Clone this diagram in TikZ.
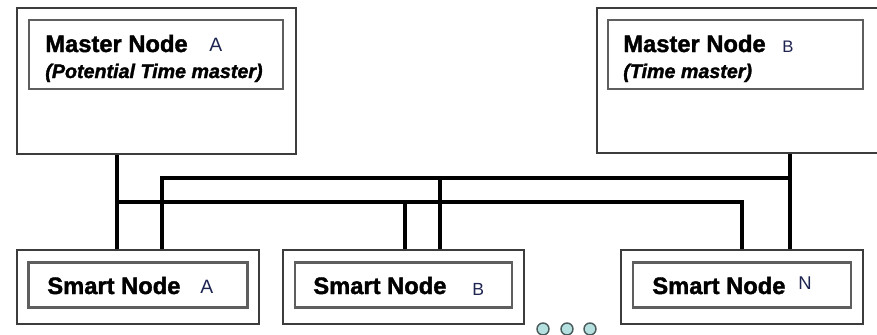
\documentclass[tikz,border=0pt]{standalone}
\usepackage{fontspec}
\setmainfont{Liberation Sans}
\newfontfamily\heavyfont{Liberation Sans}[BoldFeatures={FakeBold=1.6}, BoldItalicFeatures={FakeBold=1.6}]
\usepackage{tikz}
\usetikzlibrary{positioning, calc}
\definecolor{framegrey}{HTML}{3C3C3C}
\definecolor{panelgrey}{HTML}{5E5E5E}
\definecolor{tagink}{HTML}{1E2450}
\definecolor{dotfill}{HTML}{B4E0E0}
\definecolor{dotline}{HTML}{4A5A5A}

\begin{document}
\begin{tikzpicture}[
  x=0.02cm, y=-0.02cm,
  outerbox/.style={draw=framegrey, line width=1.1pt, fill=white, inner sep=0pt},
  innerbox/.style={draw=panelgrey, line width=1.2pt, inner sep=0pt},
  wire/.style={black, line width=2.3pt},
  title/.style={font=\heavyfont\fontsize{13.5}{15}\selectfont\bfseries, anchor=base west, inner sep=0pt},
  subtitle/.style={font=\heavyfont\fontsize{11.2}{13}\selectfont\bfseries\itshape, anchor=base west, inner sep=0pt},
  tag/.style={font=\fontsize{11}{13}\selectfont, text=tagink, anchor=base west, inner sep=0pt},
  moredot/.style={circle, draw=dotline, fill=dotfill, line width=0.8pt, minimum size=0.24cm, inner sep=0pt}
]
\useasboundingbox (0,0) rectangle (877,335);

% ---- master nodes (B runs off the right edge) ----
\node[outerbox, minimum width=5.58cm, minimum height=2.92cm] (mA) at (156.5,81) {};
\node[innerbox, minimum width=5.08cm, minimum height=1.38cm] (mAin) at (156,54.5) {};
\node[outerbox, minimum width=5.86cm, minimum height=2.9cm] (mB) at (743.5,80.5) {};
\node[innerbox, minimum width=5.1cm, minimum height=1.38cm] (mBin) at (735.5,54.5) {};

\node[title] (mAtitle) at (45,52) {Master Node};
\node[tag] (mAtag) at (209,51) {A};
\node[subtitle] (mAsub) at (45,78) {(Potential Time master)};
\node[title] (mBtitle) at (623,52) {Master Node};
\node[tag, font=\fontsize{9.5}{11}\selectfont] (mBtag) at (782,52) {B};
\node[subtitle] (mBsub) at (623,78) {(Time master)};

% ---- smart nodes ----
\foreach \n/\x/\w/\iw in {sA/138/4.84/4.38, sB/403.5/4.82/4.34, sN/742/4.84/4.36} {
  \node[outerbox, minimum width=\w cm, minimum height=1.47cm] (\n) at (\x,287) {};
  \node[innerbox, minimum width=\iw cm, minimum height=0.9cm] (\n in) at (\x,285) {};
}
\node[title] (sAtitle) at (47,294) {Smart Node};
\node[tag] (sAtag) at (200,293) {A};
\node[title] (sBtitle) at (313,294) {Smart Node};
\node[tag, font=\fontsize{10}{12}\selectfont] (sBtag) at (472,295) {B};
\node[title] (sNtitle) at (652,294) {Smart Node};
\node[tag, font=\fontsize{10.5}{12}\selectfont] (sNtag) at (798,289) {N};

% ---- the two buses ----
\coordinate (loL) at (117,202);
\coordinate (loR) at (742,202);
\coordinate (loB) at (405,202);
\coordinate (hiL) at (162,178);
\coordinate (hiR) at (790,178);
\coordinate (hiB) at (440,178);

% lower bus: master A down to smart A, across to smart B and smart N
\draw[wire] (mA.south -| loL) -- (sA.north -| loL);
\draw[wire] (loL) -- (loR) -- (sN.north -| loR);
\draw[wire] (loB) -- (sB.north -| loB);

% upper bus: master B down to smart N, across to smart B and smart A
\draw[wire] (mB.south -| hiR) -- (sN.north -| hiR);
\draw[wire] (hiR) -- (hiL) -- (sA.north -| hiL);
\draw[wire] (hiB) -- (sB.north -| hiB);

% ---- more smart nodes ----
\foreach \i/\x in {1/543, 2/567, 3/590} {
  \node[moredot] (dot\i) at (\x,329) {};
}
\end{tikzpicture}
\end{document}
